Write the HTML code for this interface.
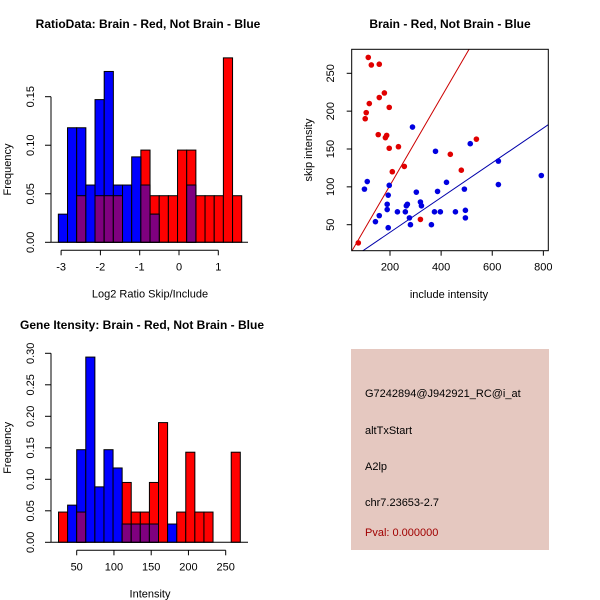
<!DOCTYPE html>
<html><head><meta charset="utf-8"><style>
body{margin:0;background:#fff}
svg{display:block;font-family:"Liberation Sans",sans-serif}
</style></head><body>
<svg id="c" width="600" height="600" xmlns="http://www.w3.org/2000/svg">
<rect width="600" height="600" fill="#fff"/>
<text x="148" y="28" font-size="12" font-weight="bold" text-anchor="middle">RatioData: Brain - Red, Not Brain - Blue</text>
<text x="450" y="28" font-size="12" font-weight="bold" text-anchor="middle">Brain - Red, Not Brain - Blue</text>
<text x="142" y="329" font-size="12" font-weight="bold" text-anchor="middle">Gene Itensity: Brain - Red, Not Brain - Blue</text>
<g id="h1"></g>
<g id="sc"></g>
<g id="h2"></g>
<g>
<rect x="351" y="349" width="198" height="201" fill="#e5c8c0"/>
<text x="365" y="397" font-size="11">G7242894@J942921_RC@i_at</text>
<text x="365" y="434" font-size="11">altTxStart</text>
<text x="365" y="470" font-size="11">A2lp</text>
<text x="365" y="506" font-size="11">chr7.23653-2.7</text>
<text x="365" y="536" font-size="11" fill="#a00000">Pval: 0.000000</text>
</g>
</svg>
<script>
// ratio histogram data (20 bins from -3.07 width 0.2333)
const ratioBinStart = -3.07;
const ratioBinWidth = 0.2333;
const ratioRed = [0,0,0.048,0,0.048,0.048,0.048,0,0,0.095,0.048,0.048,0.048,0.095,0.095,0.048,0.048,0.048,0.19,0.048];
const ratioBlue = [0.029,0.118,0.118,0.059,0.147,0.176,0.059,0.059,0.088,0.059,0.029,0,0,0,0.059,0,0,0,0,0];
const ratioYTicks = [0,0.05,0.10,0.15];
const ratioYLabels = ["0.00","0.05","0.10","0.15"];
const ratioXTicks = [-3,-2,-1,0,1];
// intensity histogram data (20 bins from 25.6 width 12.2)
const intBinStart = 25.6;
const intBinWidth = 12.2;
const intRed = [0.048,0,0.048,0,0,0,0,0.095,0.048,0.048,0.095,0.19,0,0.048,0.143,0.048,0.048,0,0,0.143];
const intBlue = [0,0.059,0.147,0.294,0.088,0.147,0.118,0.029,0.029,0.029,0.029,0,0.029,0,0,0,0,0,0,0];
const intYTicks = [0,0.05,0.10,0.15,0.20,0.25,0.30];
const intYLabels = ["0.00","0.05","0.10","0.15","0.20","0.25","0.30"];
const intXTicks = [50,100,150,200,250];
// scatter data
const redX = [76,115,127,158,119,107,103,178,158,197,154,182,187,197,233,209,256,319,436,479,538];
const redY = [26,271,261,262,210,198,190,224,218,205,169,165,168,151,153,120,127,57,143,122,163];
const blueX = [100,111,197,193,189,189,193,158,143,229,260,264,268,276,280,303,319,323,288,362,374,397,386,378,421,456,491,495,495,514,624,624,792];
const blueY = [97,107,102,89,77,70,46,62,54,67,67,75,77,59,50,93,80,75,179,50,67,67,94,147,106,67,97,69,59,157,134,103,115];
const redFit = [-14.2,0.581];
const blueFit = [-6.0,0.2296];
const scXTicks = [200,400,600,800];
const scYTicks = [50,100,150,200,250];

const NS="http://www.w3.org/2000/svg";
function mk(parent,tag,attrs){const e=document.createElementNS(NS,tag);for(const k in attrs)e.setAttribute(k,attrs[k]);parent.appendChild(e);return e;}
function txt(parent,x,y,s,rot){const t=mk(parent,'text',{x:x,y:y,'font-size':11,'text-anchor':'middle'});if(rot)t.setAttribute('transform','rotate(-90 '+x+' '+y+')');t.textContent=s;return t;}

function hist(g,red,blue,x0,bw,sx,sy,yT,yL,xT,xlab,ybot,ytop){
  red.forEach((v,i)=>{const a=sx(x0+i*bw),b=sx(x0+(i+1)*bw);
    const r=mk(g,'rect',{x:a,y:sy(v),width:b-a,height:sy(0)-sy(v),fill:'#ff0000',stroke:'#000','stroke-width':1});
    
    });
  blue.forEach((v,i)=>{const a=sx(x0+i*bw),b=sx(x0+(i+1)*bw);
    if(v<=0)return;
    const r=mk(g,'rect',{x:a,y:sy(v),width:b-a,height:sy(0)-sy(v),fill:'#0000ff',stroke:'#000','stroke-width':1});
    
    
    const m=Math.min(v,red[i]);
    if(m>0){const p=mk(g,'rect',{x:a,y:sy(m),width:b-a,height:sy(0)-sy(m),fill:'#7f007f',stroke:'#000','stroke-width':1});
      
      }
  });
  mk(g,'line',{x1:51,x2:248,y1:sy(0),y2:sy(0),stroke:'#000'});
  mk(g,'line',{x1:51,x2:51,y1:sy(yT[0]),y2:sy(yT[yT.length-1]),stroke:'#000'});
  yT.forEach((v,i)=>{mk(g,'line',{x1:45,x2:51,y1:sy(v),y2:sy(v),stroke:'#000'});
    const t=txt(g,34,sy(v),yL[i],true);
    
    });
  const xa=ybot+8;
  mk(g,'line',{x1:sx(xT[0]),x2:sx(xT[xT.length-1]),y1:xa,y2:xa,stroke:'#000'});
  xT.forEach(v=>{mk(g,'line',{x1:sx(v),x2:sx(v),y1:xa,y2:xa+5,stroke:'#000'});
    const t=txt(g,sx(v),xa+20,String(v));
    
    });
  const xl=txt(g,150,xa+47,xlab);
  
  
  const yl=txt(g,11,(ybot+ytop)/2,'Frequency',true);
  
  
}
// ratio hist axes
hist(document.getElementById('h1'),ratioRed,ratioBlue,ratioBinStart,ratioBinWidth,
  v=>179+v*39.3, v=>242.3-v*970.7, ratioYTicks,ratioYLabels,ratioXTicks,'Log2 Ratio Skip/Include',242.3,96.7);
hist(document.getElementById('h2'),intRed,intBlue,intBinStart,intBinWidth,
  v=>76.7+(v-50)*0.745, v=>542.3-v*630, intYTicks,intYLabels,intXTicks,'Intensity',542.3,353.3);

// scatter
(function(){
  const g=document.getElementById('sc');
  const L=351.7,R=548.3,T=49.3,B=250.7;
  const sx=v=>390+(v-200)*0.2556, sy=v=>224.7-(v-50)*0.757;
  const inv=px=>200+(px-390)/0.2556;
  mk(g,'defs',{}).innerHTML='<clipPath id="cp"><rect x="'+L+'" y="'+T+'" width="'+(R-L)+'" height="'+(B-T)+'"/></clipPath>';
  const cg=mk(g,'g',{'clip-path':'url(#cp)'});
  [[redFit,'#cc0000','red-fit-line'],[blueFit,'#0000aa','blue-fit-line']].forEach(([f,c,n])=>{
    const a=inv(L),b=inv(R);
    const l=mk(cg,'line',{x1:L,x2:R,y1:sy(f[0]+f[1]*a),y2:sy(f[0]+f[1]*b),stroke:c,'stroke-width':1});
    
    
  });
  redX.forEach((x,i)=>{const c=mk(g,'circle',{cx:sx(x),cy:sy(redY[i]),r:2.8,fill:'#e00000'});
    
    });
  blueX.forEach((x,i)=>{const c=mk(g,'circle',{cx:sx(x),cy:sy(blueY[i]),r:2.8,fill:'#0000e0'});
    
    });
  mk(g,'rect',{x:L,y:T,width:R-L,height:B-T,fill:'none',stroke:'#000'});
  scXTicks.forEach(v=>{mk(g,'line',{x1:sx(v),x2:sx(v),y1:B,y2:B+5,stroke:'#000'});
    const t=txt(g,sx(v),B+20,String(v));
    
    });
  scYTicks.forEach(v=>{mk(g,'line',{x1:L-5,x2:L,y1:sy(v),y2:sy(v),stroke:'#000'});
    const t=txt(g,334,sy(v),String(v),true);
    
    });
  const xl=txt(g,449,298,'include intensity');
  
  
  const yl=txt(g,312,150,'skip intensity',true);
  
  
})();
</script>
</body></html>
